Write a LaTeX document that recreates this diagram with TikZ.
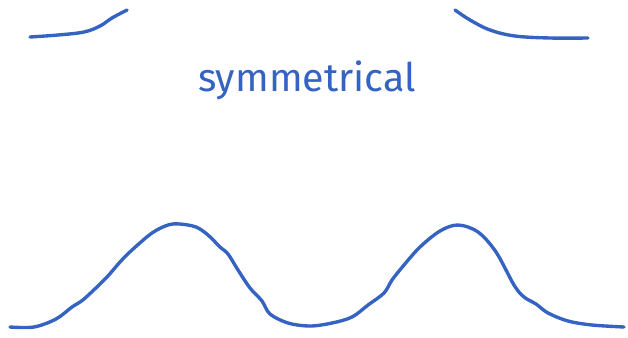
\documentclass[tikz,border=0pt]{standalone}
\usepackage{fontspec}
\newfontfamily\handfont{Fira Sans}
\definecolor{inkblue}{RGB}{52,99,193}
\tikzset{
  inkline/.style={draw=inkblue, line width=2.4pt, line cap=round, line join=round},
  inktext/.style={text=inkblue, font=\handfont\fontsize{28}{31}\selectfont, inner sep=0pt}
}
\begin{document}
\begin{tikzpicture}[x=0.025cm, y=-0.025cm]
  \useasboundingbox (0,0) rectangle (628,337);

  % Code in alto (tagliate)
  \draw[inkline] plot[smooth, tension=0.6] coordinates {(30,37) (58,35) (84,32) (100,26) (112,18) (127,10)};
  \draw[inkline] plot[smooth, tension=0.6] coordinates {(455,10) (470,20) (490,30) (515,36) (550,38) (588,38)};

  % Etichetta
  \node[inktext, anchor=base] (label) at (307,91) {symmetrical};

  % Curva bimodale
  \draw[inkline] plot[smooth, tension=0.55] coordinates {
    (10,327) (34,327) (56,319) (72,307) (84,299) (106,278) (120,262) (132,250)
    (152,233) (168,225) (180,224) (196,227) (208,235) (220,247) (228,254)
    (238,270) (250,288) (262,301) (270,314) (288,323) (310,326) (332,323)
    (352,317) (368,305) (384,293) (392,280) (404,265) (420,247) (440,231)
    (458,225) (478,232) (496,252) (514,285) (524,297) (536,304) (548,313)
    (568,321) (592,325) (624,327)};
\end{tikzpicture}
\end{document}
